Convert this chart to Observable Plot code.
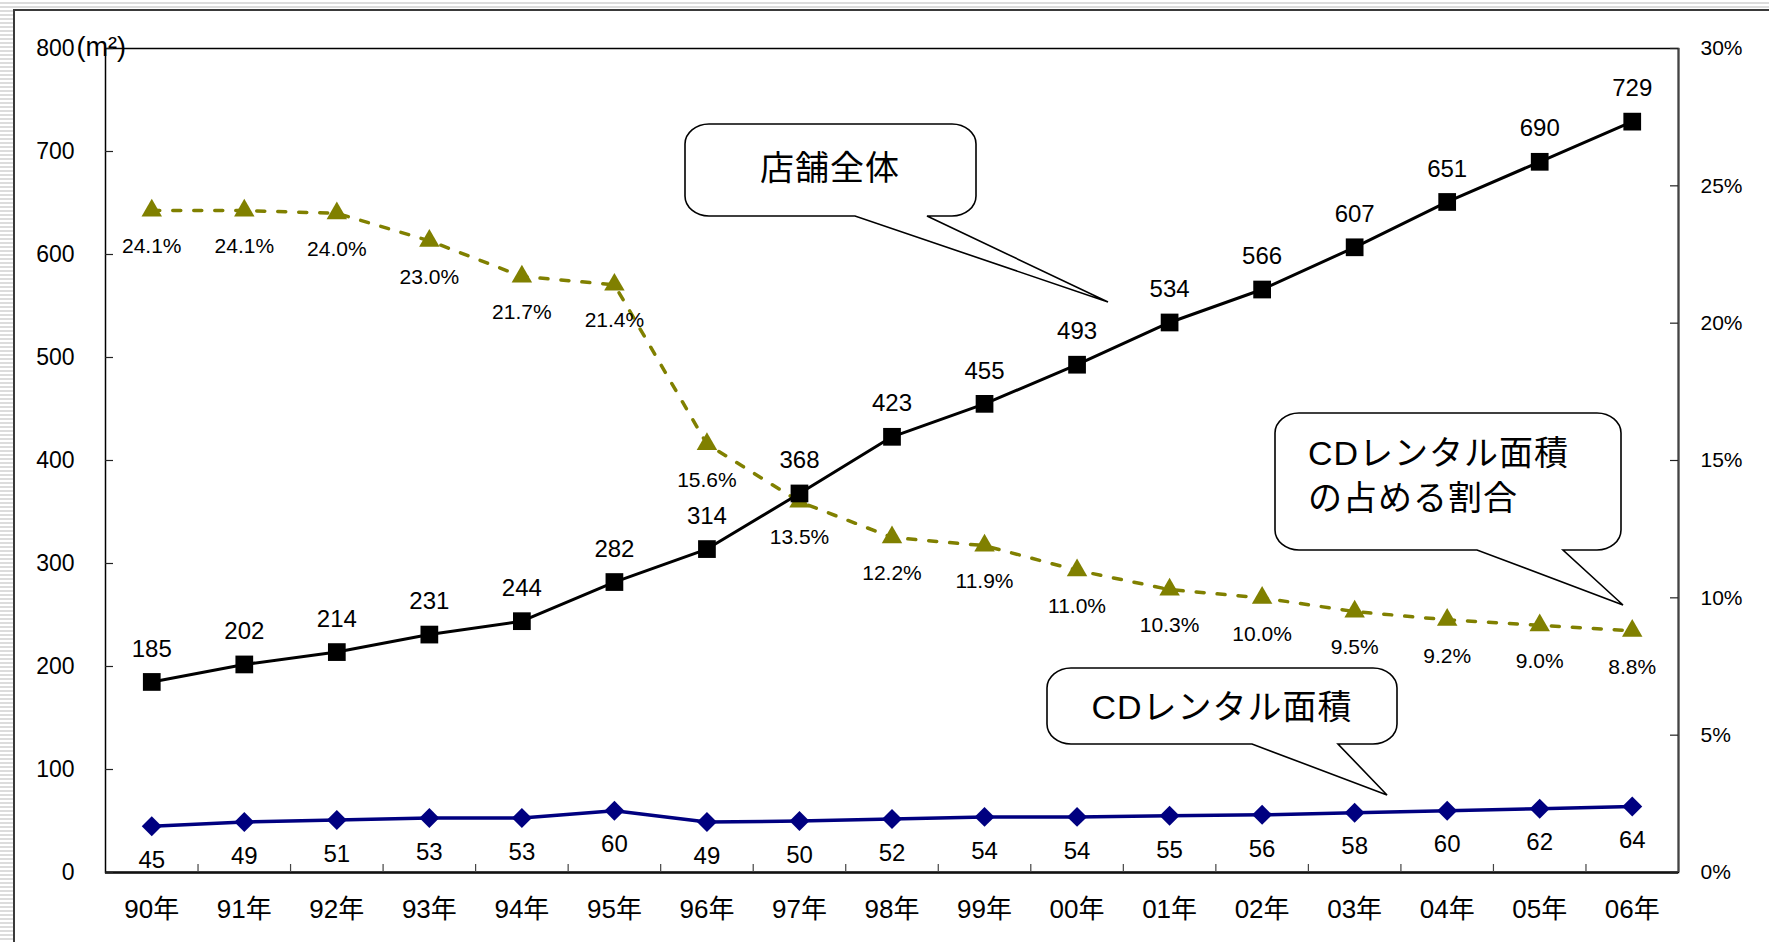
<!DOCTYPE html>
<html><head><meta charset="utf-8">
<script src="https://cdn.jsdelivr.net/npm/d3@7"></script>
<script src="https://cdn.jsdelivr.net/npm/@observablehq/plot@0.6"></script>
<style>
html,body{margin:0;padding:0;width:1769px;height:942px;overflow:hidden;}
body{position:relative;background:repeating-linear-gradient(to bottom,#ffffff 0px,#ffffff 2px,#dcdcdc 2px,#dcdcdc 4px);}
#frame{position:absolute;left:13px;top:9px;right:0;bottom:0;background:#fff;border-left:2px solid #3a3a3a;border-top:2px solid #3a3a3a;}
#chart{position:absolute;left:0;top:0;}
</style></head>
<body><div id="frame"></div><div id="chart"></div>
<script>
// ---- data ----
const years = ["90年","91年","92年","93年","94年","95年","96年","97年","98年","99年","00年","01年","02年","03年","04年","05年","06年"];
const storeTotal = [185,202,214,231,244,282,314,368,423,455,493,534,566,607,651,690,729];
const cdArea = [45,49,51,53,53,60,49,50,52,54,54,55,56,58,60,62,64];
const cdShare = [24.1,24.1,24.0,23.0,21.7,21.4,15.6,13.5,12.2,11.9,11.0,10.3,10.0,9.5,9.2,9.0,8.8];
const leftTicks = [0,100,200,300,400,500,600,700,800];
const rightTicks = [0,5,10,15,20,25,30];
const unitLabel = "(m²)";
const calloutTexts = [["店舗全体"],["CDレンタル面積","の占める割合"],["CDレンタル面積"]];

// ---- layout ----
const W = 1769, H = 942, mL = 105, mR = 91, mT = 48, mB = 70;
const plotW = W - mL - mR, plotH = H - mT - mB;
const toY = v => v * 800 / 30;           // share (%) -> left-axis units
const fromY = v => v * 30 / 800;
const FONT = "'Liberation Sans','Noto Sans CJK JP',sans-serif";

const callouts = [
  {x0:685, x1:976, y0:124, y1:216, bl:855, br:927, tx:1108, ty:302, lines:calloutTexts[0], anchor:"middle", lx:830, ly:[168]},
  {x0:1275, x1:1621, y0:413, y1:550, bl:1477, br:1563, tx:1623, ty:605, lines:calloutTexts[1], anchor:"start", lx:1308, ly:[453,498]},
  {x0:1047, x1:1397, y0:668, y1:744, bl:1252, br:1338, tx:1387, ty:795, lines:calloutTexts[2], anchor:"middle", lx:1222, ly:[707]}
];

function calloutMark() {
  const g = d3.create("svg:g");
  const rx = 24, ry = 20;
  for (const c of callouts) {
    const p = `M${c.x0+rx},${c.y0} H${c.x1-rx} A${rx},${ry} 0 0 1 ${c.x1},${c.y0+ry} V${c.y1-ry} A${rx},${ry} 0 0 1 ${c.x1-rx},${c.y1} H${c.br} L${c.tx},${c.ty} L${c.bl},${c.y1} H${c.x0+rx} A${rx},${ry} 0 0 1 ${c.x0},${c.y1-ry} V${c.y0+ry} A${rx},${ry} 0 0 1 ${c.x0+rx},${c.y0} Z`;
    g.append("path").attr("d", p).attr("fill", "#fff").attr("stroke", "#000").attr("stroke-width", 1.6);
    c.lines.forEach((t, k) => {
      g.append("text").attr("x", c.lx).attr("y", c.ly[k]).attr("text-anchor", c.anchor)
        .attr("dominant-baseline", "central").attr("font-size", 34).attr("letter-spacing", 1)
        .attr("font-family", FONT).attr("fill", "#000").text(t);
    });
  }
  return g.node();
}

const idx = (d, i) => i;

const chart = Plot.plot({
  width: W, height: H,
  marginLeft: mL, marginRight: mR, marginTop: mT, marginBottom: mB,
  style: {background: "transparent", fontFamily: FONT, overflow: "visible"},
  x: {type: "linear", domain: [-0.5, years.length - 0.5]},
  y: {domain: [0, 800]},
  marks: [
    Plot.frame({stroke: "#000", strokeWidth: 1.5}),
    Plot.ruleY([0], {stroke: "#111", strokeWidth: 2.5}),
    Plot.ruleX([years.length - 0.5], {stroke: "#444", strokeWidth: 2}),
    // inward ticks
    Plot.tickY(leftTicks, {y: d => d, insetRight: plotW - 8, stroke: "#222", strokeWidth: 1.2}),
    Plot.tickY(rightTicks, {y: d => toY(d), insetLeft: plotW - 8, stroke: "#222", strokeWidth: 1.2}),
    Plot.tickX(d3.range(0.5, years.length - 1, 1), {x: d => d, insetTop: plotH - 8, stroke: "#444", strokeWidth: 1.2}),
    // axes
    Plot.axisY({anchor: "left", ticks: leftTicks, tickSize: 0, tickPadding: 31, fontSize: 23, label: null}),
    Plot.axisY({anchor: "right", ticks: rightTicks.map(toY), tickFormat: v => Math.round(fromY(v)) + "%", tickSize: 0, tickPadding: 22, fontSize: 21, label: null}),
    Plot.axisX({ticks: d3.range(years.length), tickFormat: i => years[i], tickSize: 0, tickPadding: 27, fontSize: 26, letterSpacing: 1, label: null}),
    Plot.text([unitLabel], {frameAnchor: "top-left", text: d => d, dx: -29, dy: -12, fontSize: 27, textAnchor: "start"}),
    // share (dashed olive)
    Plot.line(cdShare, {x: idx, y: d => toY(d), stroke: "#808000", strokeWidth: 3.5, strokeDasharray: "8,13"}),
    Plot.dot(cdShare, {x: idx, y: d => toY(d), symbol: "triangle", r: 7.6, fill: "#808000", stroke: "none"}),
    Plot.text(cdShare, {x: idx, y: d => toY(d), text: d => d.toFixed(1) + "%", dy: 36, fontSize: 21}),
    // store total (black)
    Plot.line(storeTotal, {x: idx, y: d => d, stroke: "#000", strokeWidth: 3}),
    Plot.dot(storeTotal, {x: idx, y: d => d, symbol: "square", r: 10, fill: "#000", stroke: "none"}),
    Plot.text(storeTotal, {x: idx, y: d => d, text: d => String(d), dy: -33, fontSize: 24}),
    // CD area (navy)
    Plot.line(cdArea, {x: idx, y: d => d, stroke: "#000080", strokeWidth: 3.5}),
    Plot.dot(cdArea, {x: idx, y: d => d, symbol: "diamond2", r: 9, fill: "#000080", stroke: "none"}),
    Plot.text(cdArea, {x: idx, y: d => d, text: d => String(d), dy: 34, fontSize: 24}),
    calloutMark
  ]
});
document.getElementById("chart").appendChild(chart);
</script></body></html>
